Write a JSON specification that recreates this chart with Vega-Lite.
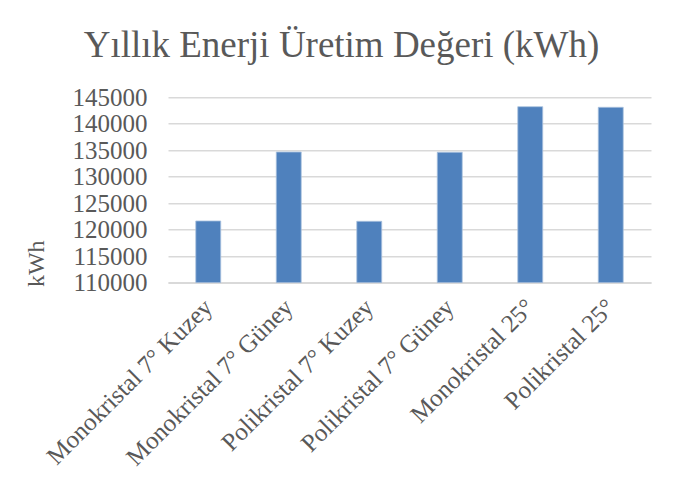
{
  "$schema": "https://vega.github.io/schema/vega-lite/v6.json",
  "autosize": "none",
  "width": 483,
  "height": 185.4,
  "padding": {"left": 168, "top": 97.3, "right": 25, "bottom": 205},
  "background": "white",
  "title": {
    "text": "Yıllık Enerji Üretim Değeri (kWh)",
    "font": "Liberation Serif",
    "fontSize": 37,
    "fontWeight": "normal",
    "color": "#595959",
    "anchor": "middle",
    "dx": -68,
    "offset": 20
  },
  "data": {
    "values": [
      {"kategori": "Monokristal 7° Kuzey", "deger": 121650},
      {"kategori": "Monokristal 7° Güney", "deger": 134670},
      {"kategori": "Polikristal 7° Kuzey", "deger": 121590},
      {"kategori": "Polikristal 7° Güney", "deger": 134620},
      {"kategori": "Monokristal 25°", "deger": 143225},
      {"kategori": "Polikristal 25°", "deger": 143110}
    ]
  },
  "mark": {"type": "bar", "color": "#4f81bd", "stroke": "#a9c1de", "strokeWidth": 0.8, "clip": true},
  "encoding": {
    "x": {
      "field": "kategori",
      "type": "nominal",
      "sort": null,
      "scale": {"paddingInner": 0.69, "paddingOuter": 0.345},
      "axis": {
        "title": null,
        "labelAngle": -45,
        "labelAlign": "right",
        "labelBaseline": "middle",
        "labelFont": "Liberation Serif",
        "labelFontSize": 25,
        "labelColor": "#595959",
        "labelLimit": 0,
        "labelPadding": 20,
        "ticks": false,
        "domainColor": "#d9d9d9",
        "domainWidth": 1.5
      }
    },
    "y": {
      "field": "deger",
      "type": "quantitative",
      "scale": {"domain": [110000, 145000], "zero": false, "nice": false},
      "axis": {
        "title": "kWh",
        "titleFont": "Liberation Serif",
        "titleFontSize": 24,
        "titleFontWeight": "normal",
        "titleColor": "#595959",
        "titleAngle": 270,
        "titleAlign": "center",
        "titleBaseline": "alphabetic",
        "titleX": -125,
        "titleY": 166,
        "values": [110000, 115000, 120000, 125000, 130000, 135000, 140000, 145000],
        "format": "d",
        "labelFont": "Liberation Serif",
        "labelFontSize": 25,
        "labelColor": "#595959",
        "labelPadding": 21,
        "labelBaseline": "middle",
        "ticks": false,
        "domain": false,
        "grid": true,
        "gridColor": "#d9d9d9",
        "gridWidth": 1.5
      }
    },
    "y2": {"datum": 110000}
  },
  "config": {"view": {"stroke": null}}
}
